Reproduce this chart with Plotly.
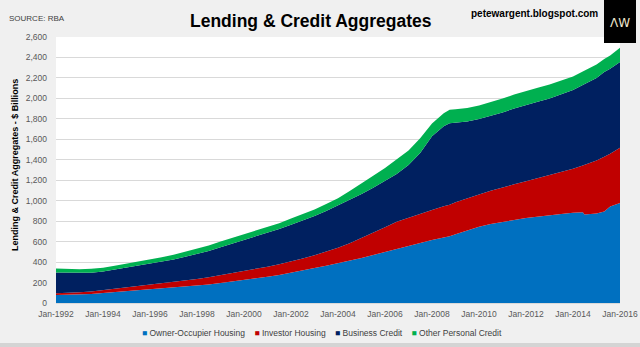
import plotly.graph_objects as go

dates = ["1992-01-01", "1992-07-01", "1993-01-01", "1993-07-01", "1994-01-01", "1994-07-01",
         "1995-01-01", "1995-07-01", "1996-01-01", "1996-07-01", "1997-01-01", "1997-07-01",
         "1998-01-01", "1998-07-01", "1999-01-01", "1999-07-01", "2000-01-01", "2000-07-01",
         "2001-01-01", "2001-07-01", "2002-01-01", "2002-07-01", "2003-01-01", "2003-07-01",
         "2004-01-01", "2004-07-01", "2005-01-01", "2005-07-01", "2006-01-01", "2006-07-01",
         "2007-01-01", "2007-07-01", "2008-01-01", "2008-07-01", "2008-10-01", "2009-01-01",
         "2009-07-01", "2010-01-01", "2010-07-01", "2011-01-01", "2011-07-01", "2012-01-01",
         "2012-07-01", "2013-01-01", "2013-07-01", "2014-01-01", "2014-06-01", "2014-07-01",
         "2015-01-01", "2015-05-01", "2015-08-01", "2016-01-01"]

owner_occupier = [77, 79, 82, 88, 97, 106, 117, 128, 140, 148, 155, 162,
                  172, 182, 196, 210, 224, 240, 256, 274, 295, 318, 342, 365,
                  388, 410, 440, 470, 500, 530, 558, 588, 615, 640, 652, 672,
                  712, 745, 772, 795, 812, 830, 845, 858, 870, 882, 886, 866,
                  874, 895, 944, 978]

investor = [18, 19, 22, 24, 28, 32, 35, 37, 40, 44, 47, 53,
            63, 70, 76, 82, 88, 95, 99, 105, 110, 117, 125, 138,
            152, 175, 195, 220, 240, 265, 277, 280, 293, 305, 308, 313,
            313, 315, 326, 337, 348, 360, 375, 390, 408, 430, 459, 486,
            518, 535, 514, 540]

business = [202, 196, 187, 183, 183, 189, 194, 197, 202, 210, 223, 237,
            245, 256, 273, 288, 305, 315, 330, 345, 360, 370, 383, 397,
            415, 425, 430, 437, 452, 467, 513, 597, 722, 782, 798, 778,
            750, 738, 730, 731, 740, 747, 747, 752, 759, 770, 785, 788,
            808, 827, 832, 837]

other_personal = [39, 39, 39, 40, 37, 36, 37, 40, 43, 46, 47, 48,
                  52, 55, 55, 55, 53, 55, 55, 56, 60, 63, 65, 68,
                  70, 85, 110, 118, 128, 138, 142, 145, 125, 128, 130, 132,
                  130, 132, 132, 135, 137, 138, 138, 135, 135, 133, 132, 132,
                  130, 128, 128, 140]

series_names = ["Owner-Occupier Housing", "Investor Housing", "Business Credit", "Other Personal Credit"]
series_colors = ["#0070c0", "#c00000", "#002060", "#00b050"]
series_values = [owner_occupier, investor, business, other_personal]

x_tick_years = list(range(1992, 2017, 2))
x_tick_vals = [f"{y}-01-01" for y in x_tick_years]
x_tick_text = [f"Jan-{y}" for y in x_tick_years]
y_tick_vals = list(range(0, 2601, 200))
y_tick_text = [f"{v:,}" for v in y_tick_vals]

FONT = "Liberation Sans Narrow, Arial Narrow, Liberation Sans, Arial, sans-serif"

fig = go.Figure()
for name, color, vals in zip(series_names, series_colors, series_values):
    fig.add_trace(go.Scatter(
        x=dates, y=vals, name=name, stackgroup="one", mode="lines",
        line=dict(width=0, color=color), fillcolor=color, showlegend=False,
        hoverinfo="skip"))

W, H = 640, 347
L, R, T, B = 56, 20, 37, 44
pw, ph = W - L - R, H - T - B

def px(x):
    return (x - L) / pw

def py(y):
    return (H - B - y) / ph

NB = "\u00a0"
legend_text = (NB * 4).join(
    f'<span style="color:{c}">■</span>{NB}{n}' for n, c in zip(series_names, series_colors))

fig.update_layout(
    width=W, height=H,
    margin=dict(l=L, r=R, t=T, b=B, pad=0, autoexpand=False),
    paper_bgcolor="#f0f0f0",
    plot_bgcolor="#ffffff",
    font=dict(family=FONT, size=9, color="#595959"),
    showlegend=False,
    xaxis=dict(type="date", range=["1992-01-01", "2016-01-01"],
               tickvals=x_tick_vals, ticktext=x_tick_text, automargin=False,
               showgrid=False, showline=True, linecolor="#d9d9d9",
               ticks="", ticklabelstandoff=3,
               tickfont=dict(family=FONT, size=8.5, color="#595959")),
    yaxis=dict(range=[0, 2600], tickvals=y_tick_vals, ticktext=y_tick_text,
               automargin=False,
               showgrid=True, gridcolor="#d9d9d9", gridwidth=1, zeroline=False,
               ticks="", ticklabelstandoff=8,
               tickfont=dict(family=FONT, size=8.5, color="#595959")),
    annotations=[
        dict(text="<b>Lending & Credit Aggregates - $ Billions</b>", xref="paper", yref="paper",
             x=px(15), y=py(165), xanchor="center", yanchor="middle", showarrow=False,
             textangle=-90, font=dict(family=FONT, size=9, color="#000000")),
        dict(text="<b>Lending & Credit Aggregates</b>", xref="paper", yref="paper",
             x=px(311), y=py(21), xanchor="center", yanchor="middle", showarrow=False,
             font=dict(family=FONT, size=17.5, color="#000000")),
        dict(text="SOURCE: RBA", xref="paper", yref="paper",
             x=px(7), y=py(18), xanchor="left", yanchor="middle", showarrow=False,
             font=dict(family=FONT, size=8, color="#404040")),
        dict(text="<b>petewargent.blogspot.com</b>", xref="paper", yref="paper",
             x=px(600), y=py(13), xanchor="right", yanchor="middle", showarrow=False,
             font=dict(family=FONT, size=10, color="#000000")),
        dict(text="ΛW", xref="paper", yref="paper",
             x=px(620), y=py(23), xanchor="center", yanchor="middle", showarrow=False,
             font=dict(family="DejaVu Sans, sans-serif", size=12, color="#efe6cf")),
        dict(text=legend_text, xref="paper", yref="paper",
             x=px(322), y=py(333), xanchor="center", yanchor="middle", showarrow=False,
             font=dict(family=FONT, size=8.5, color="#404040")),
    ],
    shapes=[
        dict(type="rect", xref="paper", yref="paper", x0=px(604), x1=px(636),
             y0=py(43), y1=py(0), fillcolor="#000000", line=dict(width=0), layer="above"),
        dict(type="rect", xref="paper", yref="paper", x0=px(0), x1=px(640),
             y0=py(347), y1=py(343), fillcolor="#d4d4d4", line=dict(width=0), layer="below"),
    ],
)

fig.write_html("out.html")
